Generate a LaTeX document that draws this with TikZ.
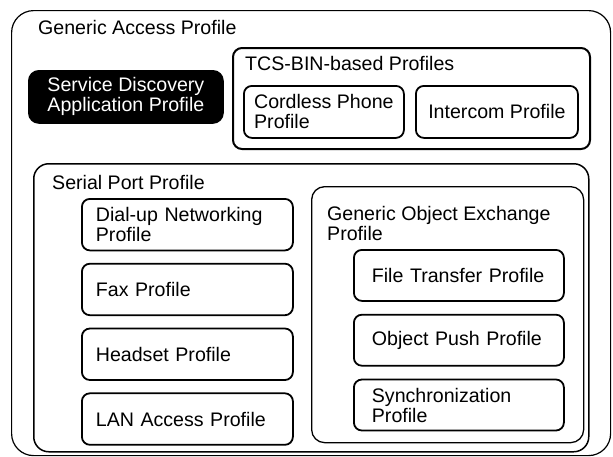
\documentclass[tikz,border=0pt]{standalone}
\usepackage{fontspec}
\setmainfont{Liberation Sans}
\usetikzlibrary{positioning}

\tikzset{
  group/.style={draw, anchor=north west, line width=1.3pt, inner sep=0pt},
  grouplabel/.style={anchor=west, inner sep=0pt, align=left},
  profile/.style={draw, anchor=north west, rounded corners=8pt, line width=1.8pt, inner ysep=2pt, align=left},
  sppbox/.style={profile, text width=183pt, inner xsep=14pt, minimum height=51.5pt},
  goepbox/.style={profile, text width=174pt, inner xsep=18pt, minimum height=51pt},
}

\begin{document}
\begin{tikzpicture}[x=1pt, y=-1pt, font=\fontsize{19.6pt}{20pt}\selectfont]
  \useasboundingbox (0,0) rectangle (613,456);

  % Generic Access Profile
  \node (gap) [group, rounded corners=22pt, line width=1.2pt, minimum width=599pt, minimum height=445pt] at (11,10) {};
  \node (gaplabel) [grouplabel] at (38,27) {Generic Access Profile};

  \node (sdap) [profile, fill=black, text=white, align=center, rounded corners=10pt,
                minimum width=194pt, minimum height=52pt] at (28,70) {Service Discovery\\Application Profile};

  % TCS-BIN
  \node (tcs) [group, rounded corners=9pt, line width=2pt, minimum width=357pt, minimum height=101pt] at (232,47) {};
  \node (tcslabel) [grouplabel] at (245,63) {TCS-BIN-based Profiles};
  \node (cordless) [profile, minimum width=160pt, minimum height=52pt] at (243,85) {Cordless Phone\\Profile};
  \node (intercom) [profile, minimum width=162pt, minimum height=52pt] at (415,85) {Intercom Profile};

  % Serial Port
  \node (spp) [group, rounded corners=15pt, line width=1.5pt, minimum width=555pt, minimum height=288pt] at (33,163) {};
  \node (spplabel) [grouplabel] at (52,182) {Serial Port Profile};
  \node (dun) [sppbox] at (81,198) {Dial-up Networking\\Profile};
  \node (fax) [sppbox, below=11.5pt of dun] {Fax Profile};
  \node (headset) [sppbox, below=11.5pt of fax] {Headset Profile};
  \node (lan) [sppbox, below=11.5pt of headset] {LAN Access Profile};

  % GOEP
  \node (goep) [group, rounded corners=13pt, minimum width=272pt, minimum height=256pt] at (311,186) {};
  \node (goeplabel) [grouplabel] at (327,223) {Generic Object Exchange\\Profile};
  \node (ftp) [goepbox] at (353,249) {File Transfer Profile};
  \node (opp) [goepbox, below=12pt of ftp] {Object Push Profile};
  \node (sync) [goepbox, below=12pt of opp] {Synchronization\\Profile};
\end{tikzpicture}
\end{document}
